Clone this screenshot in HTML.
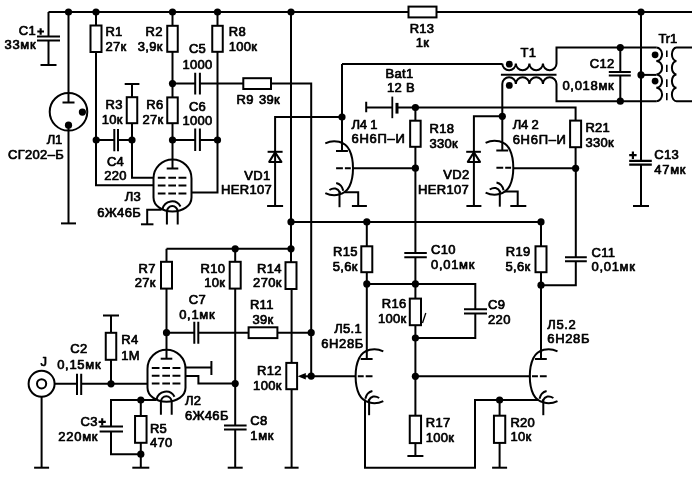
<!DOCTYPE html>
<html><head><meta charset="utf-8"><style>
html,body{margin:0;padding:0;background:#fff;}
svg{display:block;will-change:transform;}
text{font-family:"Liberation Sans",sans-serif;font-weight:normal;font-size:13px;fill:#000;stroke:#000;stroke-width:0.7px;stroke-linejoin:round;letter-spacing:0.3px;}
</style></head><body>
<svg width="700" height="478" viewBox="0 0 700 478" stroke="#000" stroke-linecap="butt" stroke-linejoin="miter">
<rect width="700" height="478" fill="#fff" stroke="none"/>
<path d="M48.5,12 H692" stroke-width="2.0" fill="none"/>
<circle cx="68.5" cy="12" r="3.6" fill="#000" stroke="none"/>
<circle cx="96" cy="12" r="3.6" fill="#000" stroke="none"/>
<circle cx="172.5" cy="12" r="3.6" fill="#000" stroke="none"/>
<circle cx="217.5" cy="12" r="3.6" fill="#000" stroke="none"/>
<circle cx="291" cy="12" r="3.6" fill="#000" stroke="none"/>
<circle cx="641" cy="12" r="3.6" fill="#000" stroke="none"/>
<rect x="408.5" y="6.60" width="28.00" height="10.8" fill="#fff" stroke-width="2.0"/>
<text x="422" y="32.5" text-anchor="middle">R13</text>
<text x="422.5" y="47" text-anchor="middle">1к</text>
<path d="M48.5,12 V36.5 M48.5,40.5 V65" stroke-width="2.0" fill="none"/>
<path d="M37,36.5 H60 M37,40.5 H60" stroke-width="2.0" fill="none"/>
<path d="M40.50,65 H56.50" stroke-width="2" fill="none"/>
<text x="18.8" y="34.5" text-anchor="start">C1</text>
<text x="4.5" y="48.6" text-anchor="start" style="letter-spacing:0.7px">33мк</text>
<path d="M37.3,31.5 H44 M40.65,28.2 V34.8" stroke-width="2.1" fill="none"/>
<path d="M68.5,12 V102.5 M62.5,102.5 H74.5" stroke-width="2.0" fill="none"/>
<circle cx="68.5" cy="111.8" r="18.8" fill="none" stroke-width="2"/>
<circle cx="82.4" cy="112.1" r="3.6" fill="#000" stroke="none"/>
<circle cx="68.5" cy="125.2" r="3.6" fill="#000" stroke="none"/>
<path d="M68.5,125 V223.4" stroke-width="2.0" fill="none"/>
<path d="M61.00,223.4 H76.00" stroke-width="2" fill="none"/>
<text x="62" y="144.4" text-anchor="end" style="letter-spacing:-0.2px">Л1</text>
<text x="64" y="158.8" text-anchor="end">СГ202–Б</text>
<path d="M96,12 V185.2 H153.5" stroke-width="2.0" fill="none"/>
<rect x="90.50" y="25.5" width="11" height="26.50" fill="#fff" stroke-width="2.0"/>
<text x="105.4" y="35.5" text-anchor="start">R1</text>
<text x="105.4" y="50.5" text-anchor="start">27к</text>
<circle cx="96.2" cy="140" r="3.6" fill="#000" stroke="none"/>
<path d="M96,140 H114.3 M118,140 H132" stroke-width="2.0" fill="none"/>
<path d="M114.3,129 V151.2 M118,129 V151.2" stroke-width="2.0" fill="none"/>
<text x="115.5" y="166" text-anchor="middle">C4</text>
<text x="115.5" y="179.5" text-anchor="middle">220</text>
<path d="M124.7,84 H139.4 M132,84 V97.2 M132,123.2 V177.8 H153.5" stroke-width="2.0" fill="none"/>
<rect x="126.75" y="97.2" width="10.5" height="26.00" fill="#fff" stroke-width="2.0"/>
<circle cx="132" cy="140" r="3.6" fill="#000" stroke="none"/>
<text x="122.7" y="108.5" text-anchor="end">R3</text>
<text x="122.7" y="123.5" text-anchor="end">10к</text>
<path d="M172.5,12 V168.5" stroke-width="2.0" fill="none"/>
<rect x="167.25" y="25.8" width="10.5" height="26.00" fill="#fff" stroke-width="2.0"/>
<rect x="167.25" y="97.4" width="10.5" height="25.80" fill="#fff" stroke-width="2.0"/>
<circle cx="172.5" cy="83.6" r="3.6" fill="#000" stroke="none"/>
<circle cx="172.5" cy="140" r="3.6" fill="#000" stroke="none"/>
<text x="162.7" y="35.5" text-anchor="end">R2</text>
<text x="162.7" y="50.8" text-anchor="end">3,9к</text>
<text x="163.5" y="109" text-anchor="end">R6</text>
<text x="163.5" y="123.6" text-anchor="end">27к</text>
<path d="M172.5,83.5 H195.2 M199.9,83.5 H243.3" stroke-width="2.0" fill="none"/>
<path d="M195.2,72.7 V94.6 M199.9,72.7 V94.6" stroke-width="2.0" fill="none"/>
<text x="197.5" y="53.4" text-anchor="middle">C5</text>
<text x="197.5" y="69.1" text-anchor="middle">1000</text>
<path d="M271,83.6 H311.2 V376.1" stroke-width="2.0" fill="none"/>
<rect x="243.3" y="78.20" width="27.70" height="10.8" fill="#fff" stroke-width="2.0"/>
<text x="236.5" y="103.7" text-anchor="start">R9</text>
<text x="259" y="103.7" text-anchor="start">39к</text>
<path d="M172.5,140 H195.2 M199.9,140 H217.5" stroke-width="2.0" fill="none"/>
<path d="M195.2,128.6 V151 M199.9,128.6 V151" stroke-width="2.0" fill="none"/>
<text x="197.5" y="110.6" text-anchor="middle">C6</text>
<text x="197.5" y="124.6" text-anchor="middle">1000</text>
<path d="M217.5,12 V192.6 H191" stroke-width="2.0" fill="none"/>
<rect x="212.25" y="25.8" width="10.5" height="26.00" fill="#fff" stroke-width="2.0"/>
<circle cx="217.5" cy="140" r="3.6" fill="#000" stroke="none"/>
<text x="228.7" y="35.5" text-anchor="start">R8</text>
<text x="228.7" y="50.8" text-anchor="start">100к</text>
<path d="M161.5,209.8 H147.2 V224.3" stroke-width="2.0" fill="none"/>
<path d="M140.95,224.3 H153.45" stroke-width="2" fill="none"/>
<text x="141" y="201.4" text-anchor="end">Л3</text>
<text x="141" y="216.6" text-anchor="end">6Ж46Б</text>
<g transform="translate(172.5,168.5)"><path d="M-5.8,0 H5.8" stroke-width="2.0" fill="none"/><path d="M-19,10 A19,19 0 0 1 19,10 V29 C19,37.5 10,43 0,43 C-10,43 -19,37.5 -19,29 Z" stroke-width="2.0" fill="none"/><path d="M-14.7,9.2 H-7 M-4.2,9.2 H3.5 M6,9.2 H13.9" stroke-width="2.0" fill="none"/><path d="M-14.7,17.1 H-7 M-4.2,17.1 H3.5 M6,17.1 H13.9" stroke-width="2.0" fill="none"/><path d="M-14.7,24.9 H-7 M-4.2,24.9 H3.5 M6,24.9 H13.9" stroke-width="2.0" fill="none"/><path d="M-9.9,40.6 A9.6,9.6 0 0 1 8,38" stroke-width="2.0" fill="none"/><path d="M-5.6,56 V43 A5.4,5.4 0 0 1 5.2,43 V56" stroke-width="2.0" fill="none"/></g>
<path d="M342,117 H275.1 V206" stroke-width="2.0" fill="none"/>
<path d="M267.6,151.8 H282.6" stroke-width="2" fill="none"/>
<path d="M275.1,152.4 L269.2,161.9 H281.4 Z" stroke-width="2" fill="none" stroke-linejoin="round"/>
<path d="M267.10,206 H283.10" stroke-width="2" fill="none"/>
<text x="270.5" y="179.7" text-anchor="end">VD1</text>
<text x="272" y="194.3" text-anchor="end">HER107</text>
<path d="M291,12 V290 M291.6,289 V467.7" stroke-width="2.0" fill="none"/>
<rect x="285.50" y="262.2" width="11" height="26.80" fill="#fff" stroke-width="2.0"/>
<rect x="286.30" y="362.9" width="10.8" height="26.30" fill="#fff" stroke-width="2.0"/>
<path d="M284.60,467.7 H298.60" stroke-width="2" fill="none"/>
<circle cx="291" cy="221.9" r="3.6" fill="#000" stroke="none"/>
<circle cx="291" cy="248.8" r="3.6" fill="#000" stroke="none"/>
<text x="281.7" y="272.6" text-anchor="end">R14</text>
<text x="281.7" y="287.2" text-anchor="end">270к</text>
<text x="281.7" y="375.1" text-anchor="end">R12</text>
<text x="281.7" y="389.6" text-anchor="end">100к</text>
<path d="M311.2,376.3 H304" stroke-width="2.0" fill="none"/>
<path d="M297.6,376.3 L305.8,373 L305.8,379.6 Z" fill="#000" stroke="none"/>
<circle cx="311.2" cy="376.1" r="3.6" fill="#000" stroke="none"/>
<circle cx="311.2" cy="332.7" r="3.6" fill="#000" stroke="none"/>
<path d="M291,221.9 H541" stroke-width="2.0" fill="none"/>
<circle cx="366.8" cy="221.9" r="3.6" fill="#000" stroke="none"/>
<circle cx="541" cy="221.9" r="3.6" fill="#000" stroke="none"/>
<path d="M166.5,248.8 H291" stroke-width="2.0" fill="none"/>
<circle cx="235.2" cy="248.8" r="3.6" fill="#000" stroke="none"/>
<path d="M166.5,248.8 V358.7" stroke-width="2.0" fill="none"/>
<rect x="161.00" y="261.8" width="11" height="26.80" fill="#fff" stroke-width="2.0"/>
<circle cx="166.5" cy="332.7" r="3.6" fill="#000" stroke="none"/>
<text x="155.7" y="272.6" text-anchor="end">R7</text>
<text x="155.7" y="287.2" text-anchor="end">27к</text>
<path d="M166.5,332.7 H194.3 M198.3,332.7 H248.6 M277.4,332.7 H311.2" stroke-width="2.0" fill="none"/>
<path d="M194.3,321.8 V343.7 M198.3,321.8 V343.7" stroke-width="2.0" fill="none"/>
<rect x="248.6" y="327.30" width="28.80" height="10.8" fill="#fff" stroke-width="2.0"/>
<text x="197.3" y="304" text-anchor="middle">C7</text>
<text x="197.3" y="318.8" text-anchor="middle" style="letter-spacing:0.7px">0,1мк</text>
<text x="261.8" y="309" text-anchor="middle">R11</text>
<text x="263" y="324" text-anchor="middle">39к</text>
<path d="M235.2,248.8 V425.4 M235.2,429.4 V467.7" stroke-width="2.0" fill="none"/>
<rect x="229.70" y="261.8" width="11" height="26.80" fill="#fff" stroke-width="2.0"/>
<path d="M224,425.4 H246.6 M224,429.4 H246.6" stroke-width="2.0" fill="none"/>
<path d="M227.70,467.7 H242.70" stroke-width="2" fill="none"/>
<circle cx="235.2" cy="383.6" r="3.6" fill="#000" stroke="none"/>
<text x="225.2" y="272.6" text-anchor="end">R10</text>
<text x="225.2" y="287.2" text-anchor="end">10к</text>
<text x="250.3" y="424.5" text-anchor="start">C8</text>
<text x="250.3" y="440" text-anchor="start" style="letter-spacing:0.7px">1мк</text>
<g transform="translate(166.5,358.7)"><path d="M-5.8,0 H5.8" stroke-width="2.0" fill="none"/><path d="M-19,10 A19,19 0 0 1 19,10 V29 C19,37.5 10,43 0,43 C-10,43 -19,37.5 -19,29 Z" stroke-width="2.0" fill="none"/><path d="M-14.7,9.2 H-7 M-4.2,9.2 H3.5 M6,9.2 H13.9" stroke-width="2.0" fill="none"/><path d="M-14.7,17.1 H-7 M-4.2,17.1 H3.5 M6,17.1 H13.9" stroke-width="2.0" fill="none"/><path d="M-14.7,24.9 H-7 M-4.2,24.9 H3.5 M6,24.9 H13.9" stroke-width="2.0" fill="none"/><path d="M-9.9,40.6 A9.6,9.6 0 0 1 8,38" stroke-width="2.0" fill="none"/><path d="M-5.6,56 V43 A5.4,5.4 0 0 1 5.2,43 V56" stroke-width="2.0" fill="none"/></g>
<path d="M185,367.6 H211.4 M211.4,360.9 V375.1" stroke-width="2.0" fill="none"/>
<path d="M185,376 H198.4 V383.6 H235.2" stroke-width="2.0" fill="none"/>
<text x="185" y="405" text-anchor="start">Л2</text>
<text x="185" y="420.3" text-anchor="start">6Ж46Б</text>
<circle cx="41.6" cy="383.8" r="13" fill="none" stroke-width="2"/>
<circle cx="41.6" cy="383.8" r="4.6" fill="none" stroke-width="2"/>
<path d="M54.6,383.8 H77 M81.2,383.8 H147.2" stroke-width="2.0" fill="none"/>
<path d="M77,373.8 V395 M81.2,373.8 V395" stroke-width="2.0" fill="none"/>
<path d="M41.6,396.8 V467.7" stroke-width="2.0" fill="none"/>
<path d="M34.10,467.7 H49.10" stroke-width="2" fill="none"/>
<text x="40.5" y="365.5" text-anchor="start">J</text>
<text x="70.3" y="352.9" text-anchor="start">C2</text>
<text x="57.2" y="368.9" text-anchor="start" style="letter-spacing:0.7px">0,15мк</text>
<circle cx="111" cy="383.8" r="3.6" fill="#000" stroke="none"/>
<path d="M103,315.6 H119 M111,315.6 V383.8" stroke-width="2.0" fill="none"/>
<rect x="105.75" y="332.8" width="10.5" height="27.00" fill="#fff" stroke-width="2.0"/>
<text x="121.3" y="344.2" text-anchor="start">R4</text>
<text x="121.3" y="359.6" text-anchor="start">1M</text>
<path d="M156,400 H111 V426.6 M111,431.5 V454.2 H140.8" stroke-width="2.0" fill="none"/>
<path d="M99.6,426.6 H123 M99.6,431.5 H123" stroke-width="2.0" fill="none"/>
<path d="M140.8,400 V467.7" stroke-width="2.0" fill="none"/>
<rect x="135.05" y="416" width="11.5" height="26.80" fill="#fff" stroke-width="2.0"/>
<path d="M132.30,467.7 H149.30" stroke-width="2" fill="none"/>
<circle cx="140.8" cy="400" r="3.6" fill="#000" stroke="none"/>
<circle cx="140.8" cy="454.2" r="3.6" fill="#000" stroke="none"/>
<text x="97.8" y="426.2" text-anchor="end">C3</text>
<text x="98.2" y="440.8" text-anchor="end" style="letter-spacing:0.7px">220мк</text>
<path d="M98.6,421.9 H105.8 M102.2,418.3 V425.5" stroke-width="2.1" fill="none"/>
<text x="149.9" y="432.8" text-anchor="start">R5</text>
<text x="149.9" y="447.4" text-anchor="start">470</text>
<path d="M342,64 H502.3" stroke-width="2.0" fill="none"/>
<path d="M502.3,63.5 A6.775,6.775 0 0 0 515.85,63.5 A6.775,6.775 0 0 0 529.40,63.5 A6.775,6.775 0 0 0 542.95,63.5 A6.775,6.775 0 0 0 556.50,63.5 V47.6 H656.3" stroke-width="2.0" fill="none"/>
<path d="M500.9,74.7 H556.5" stroke-width="2.0" fill="none"/>
<path d="M502.3,150.2 V84  A6.775,6.775 0 0 1 515.85,84 A6.775,6.775 0 0 1 529.40,84 A6.775,6.775 0 0 1 542.95,84 A6.775,6.775 0 0 1 556.50,84 V101.2 H656.3" stroke-width="2.0" fill="none"/>
<circle cx="509.3" cy="64.2" r="3.4" fill="#000" stroke="none"/>
<circle cx="509.3" cy="85.4" r="3.4" fill="#000" stroke="none"/>
<text x="520.5" y="56.8" text-anchor="start">T1</text>
<circle cx="342" cy="117" r="3.6" fill="#000" stroke="none"/>
<path d="M366.2,101.8 V112.3 M366.2,107.5 H392.3 M397,107.5 H575.6 V168.3" stroke-width="2.0" fill="none"/>
<path d="M392.3,96.6 V118.2" stroke-width="1.8" fill="none"/>
<path d="M397,102.9 V113.6" stroke-width="3" fill="none"/>
<circle cx="415.4" cy="107.5" r="3.6" fill="#000" stroke="none"/>
<text x="385.6" y="77.8" text-anchor="start">Bat1</text>
<text x="387" y="92.4" text-anchor="start">12 В</text>
<text x="351.5" y="129" text-anchor="start" style="letter-spacing:-0.2px">Л4 1</text>
<text x="351.5" y="142.8" text-anchor="start" style="letter-spacing:0.7px">6Н6П–И</text>
<g transform="translate(342,150.7) scale(-1,1)"><path d="M-5.9,0.3 H6" stroke-width="2.0" fill="none"/><path d="M16.7,-7.4 C8,-11.5 -3,-9.5 -7.5,-0.5 C-10.2,5 -11,11 -11,17.5 C-11,24 -10.2,30 -7.5,35.5 C-3,44.5 8,46.5 16.7,42.4" stroke-width="2.0" fill="none"/><path d="M-8.8,17.5 H-2.9 M-0.9,17.5 H5.9" stroke-width="2.0" fill="none"/><path d="M-1.3,40.1 Q0,33.5 5.8,32.2" stroke-width="2.0" fill="none"/><path d="M1.7,42.2 Q6,35 12.6,39.3" stroke-width="2.0" fill="none"/><path d="M2.5,40.6 V56.5" stroke-width="2.0" fill="none"/></g>
<path d="M342,64 V150.7" stroke-width="2.0" fill="none"/>
<path d="M353,168.2 H415.4" stroke-width="2.0" fill="none"/>
<path d="M344.3,192.2 H358.2 V206" stroke-width="2.0" fill="none"/>
<path d="M351.90,206 H366.90" stroke-width="2" fill="none"/>
<path d="M415.4,107.5 V253 M415.4,257.2 V456" stroke-width="2.0" fill="none"/>
<rect x="410.15" y="120.7" width="10.5" height="26.10" fill="#fff" stroke-width="2.0"/>
<rect x="409.80" y="298.6" width="11.2" height="26.60" fill="#fff" stroke-width="2.0"/>
<rect x="409.75" y="415.7" width="11.3" height="27.40" fill="#fff" stroke-width="2.0"/>
<path d="M404.3,253 H426.8 M404.3,257.2 H426.8" stroke-width="2.0" fill="none"/>
<path d="M407.40,456 H423.40" stroke-width="2" fill="none"/>
<circle cx="415.4" cy="168.2" r="3.6" fill="#000" stroke="none"/>
<circle cx="415.4" cy="283.9" r="3.6" fill="#000" stroke="none"/>
<circle cx="415.4" cy="338" r="3.6" fill="#000" stroke="none"/>
<circle cx="415.4" cy="376.3" r="3.6" fill="#000" stroke="none"/>
<text x="429.5" y="132.5" text-anchor="start">R18</text>
<text x="429.5" y="148" text-anchor="start">330к</text>
<text x="431" y="253.5" text-anchor="start">C10</text>
<text x="431" y="268.5" text-anchor="start" style="letter-spacing:0.7px">0,01мк</text>
<text x="406.5" y="308.3" text-anchor="end">R16</text>
<text x="406.5" y="322.9" text-anchor="end">100к</text>
<text x="425.7" y="427.3" text-anchor="start">R17</text>
<text x="425.7" y="441.6" text-anchor="start">100к</text>
<path d="M422.5,323 L425.8,313" stroke-width="1.3" fill="none"/>
<g transform="translate(502.3,150.2) scale(-1,1)"><path d="M-5.9,0.3 H6" stroke-width="2.0" fill="none"/><path d="M16.7,-7.4 C8,-11.5 -3,-9.5 -7.5,-0.5 C-10.2,5 -11,11 -11,17.5 C-11,24 -10.2,30 -7.5,35.5 C-3,44.5 8,46.5 16.7,42.4" stroke-width="2.0" fill="none"/><path d="M-8.8,17.5 H-2.9 M-0.9,17.5 H5.9" stroke-width="2.0" fill="none"/><path d="M-1.3,40.1 Q0,33.5 5.8,32.2" stroke-width="2.0" fill="none"/><path d="M1.7,42.2 Q6,35 12.6,39.3" stroke-width="2.0" fill="none"/><path d="M2.5,40.6 V56.5" stroke-width="2.0" fill="none"/></g>
<circle cx="502.3" cy="116.3" r="3.6" fill="#000" stroke="none"/>
<path d="M502.3,116.3 H473.9 V206" stroke-width="2.0" fill="none"/>
<path d="M466.2,151.8 H480.9" stroke-width="2" fill="none"/>
<path d="M473.9,152.4 L467.8,161.9 H480 Z" stroke-width="2" fill="none" stroke-linejoin="round"/>
<path d="M466.40,206 H481.40" stroke-width="2" fill="none"/>
<path d="M514,168.3 H575.6" stroke-width="2.0" fill="none"/>
<path d="M504.6,191.6 H517.7 V206" stroke-width="2.0" fill="none"/>
<path d="M510.30,206 H526.30" stroke-width="2" fill="none"/>
<circle cx="575.6" cy="168.3" r="3.6" fill="#000" stroke="none"/>
<text x="469.5" y="179.4" text-anchor="end">VD2</text>
<text x="469" y="193.6" text-anchor="end">HER107</text>
<text x="512.7" y="128.9" text-anchor="start" style="letter-spacing:-0.2px">Л4 2</text>
<text x="512.7" y="143.9" text-anchor="start" style="letter-spacing:0.7px">6Н6П–И</text>
<rect x="570.10" y="120.6" width="11" height="26.60" fill="#fff" stroke-width="2.0"/>
<path d="M575.8,168.3 V257.3 M575.8,261.2 V285.2 H541" stroke-width="2.0" fill="none"/>
<path d="M565,257.3 H586.8 M565,261.2 H586.8" stroke-width="2.0" fill="none"/>
<text x="585.4" y="132.3" text-anchor="start">R21</text>
<text x="585.4" y="147.4" text-anchor="start">330к</text>
<text x="591.5" y="257.1" text-anchor="start">C11</text>
<text x="591.5" y="271.4" text-anchor="start" style="letter-spacing:0.7px">0,01мк</text>
<path d="M620.3,47.6 V72 M620.3,75.4 V101.2" stroke-width="2.0" fill="none"/>
<path d="M608.8,72 H630.8 M608.8,75.4 H630.8" stroke-width="2.0" fill="none"/>
<circle cx="620.3" cy="47.6" r="3.6" fill="#000" stroke="none"/>
<circle cx="620.3" cy="101.2" r="3.6" fill="#000" stroke="none"/>
<text x="614.5" y="67.5" text-anchor="end">C12</text>
<text x="614.5" y="90.2" text-anchor="end" style="letter-spacing:0.7px">0,018мк</text>
<path d="M641,12 V160.9 M641,164.6 V206" stroke-width="2.0" fill="none"/>
<path d="M629.2,160.9 H651.8 M629.2,164.6 H651.8" stroke-width="2.2" fill="none"/>
<path d="M629.2,155.2 H636.6 M632.9,151.4 V159" stroke-width="2.2" fill="none"/>
<path d="M633.00,206 H649.00" stroke-width="2" fill="none"/>
<circle cx="641" cy="74.9" r="3.6" fill="#000" stroke="none"/>
<text x="654.3" y="158.9" text-anchor="start">C13</text>
<text x="654.3" y="174.2" text-anchor="start" style="letter-spacing:0.7px">47мк</text>
<path d="M641,74.9 H656.3" stroke-width="2.0" fill="none"/>
<path d="M656.3,47.6 A5.8,6.7 0 0 1 656.3,61.00 A5.8,6.7 0 0 1 656.3,74.40 A5.8,6.7 0 0 1 656.3,87.80 A5.8,6.7 0 0 1 656.3,101.20" stroke-width="2.0" fill="none"/>
<path d="M692,47.6 H676.5  A4.6,6.7 0 0 0 676.5,61.00 A4.6,6.7 0 0 0 676.5,74.40 A4.6,6.7 0 0 0 676.5,87.80 A4.6,6.7 0 0 0 676.5,101.20 H692" stroke-width="2.0" fill="none"/>
<path d="M666.8,50.5 V57 M666.8,64.7 V72 M666.8,79.2 V87 M666.8,93 V100.3" stroke-width="1.6" fill="none"/>
<circle cx="655.1" cy="54.8" r="3.4" fill="#000" stroke="none"/>
<circle cx="655.1" cy="81.1" r="3.4" fill="#000" stroke="none"/>
<text x="658.5" y="42.6" text-anchor="start" style="letter-spacing:-0.2px">Tr1</text>
<path d="M366.8,221.9 V358.7" stroke-width="2.0" fill="none"/>
<rect x="361.30" y="246.3" width="11" height="25.90" fill="#fff" stroke-width="2.0"/>
<circle cx="366.8" cy="283.9" r="3.6" fill="#000" stroke="none"/>
<path d="M366.8,283.9 H475.3 V309.2 M475.3,313.5 V338 H415.4" stroke-width="2.0" fill="none"/>
<path d="M464,309.2 H487 M464,313.5 H487" stroke-width="2.0" fill="none"/>
<text x="357.8" y="255.6" text-anchor="end">R15</text>
<text x="357.8" y="271.1" text-anchor="end">5,6к</text>
<text x="488.1" y="309" text-anchor="start">C9</text>
<text x="488.1" y="323.6" text-anchor="start">220</text>
<path d="M541,221.9 V358.7" stroke-width="2.0" fill="none"/>
<rect x="535.50" y="246.3" width="11" height="25.90" fill="#fff" stroke-width="2.0"/>
<circle cx="541" cy="285.2" r="3.6" fill="#000" stroke="none"/>
<text x="530.5" y="256" text-anchor="end">R19</text>
<text x="530.5" y="271" text-anchor="end">5,6к</text>
<g transform="translate(366.6,358.7)"><path d="M-5.9,0.3 H6" stroke-width="2.0" fill="none"/><path d="M16.7,-7.4 C8,-11.5 -3,-9.5 -7.5,-0.5 C-10.2,5 -11,11 -11,17.5 C-11,24 -10.2,30 -7.5,35.5 C-3,44.5 8,46.5 16.7,42.4" stroke-width="2.0" fill="none"/><path d="M-8.8,17.5 H-2.9 M-0.9,17.5 H5.9" stroke-width="2.0" fill="none"/><path d="M-1.3,40.1 Q0,33.5 5.8,32.2" stroke-width="2.0" fill="none"/><path d="M1.7,42.2 Q6,35 12.6,39.3" stroke-width="2.0" fill="none"/><path d="M2.5,40.6 V56.5" stroke-width="2.0" fill="none"/></g>
<g transform="translate(540.8,358.7)"><path d="M-5.9,0.3 H6" stroke-width="2.0" fill="none"/><path d="M16.7,-7.4 C8,-11.5 -3,-9.5 -7.5,-0.5 C-10.2,5 -11,11 -11,17.5 C-11,24 -10.2,30 -7.5,35.5 C-3,44.5 8,46.5 16.7,42.4" stroke-width="2.0" fill="none"/><path d="M-8.8,17.5 H-2.9 M-0.9,17.5 H5.9" stroke-width="2.0" fill="none"/><path d="M-1.3,40.1 Q0,33.5 5.8,32.2" stroke-width="2.0" fill="none"/><path d="M1.7,42.2 Q6,35 12.6,39.3" stroke-width="2.0" fill="none"/><path d="M2.5,40.6 V56.5" stroke-width="2.0" fill="none"/></g>
<path d="M311.2,376.2 H356" stroke-width="2.0" fill="none"/>
<path d="M415.4,376.3 H530.6" stroke-width="2.0" fill="none"/>
<path d="M365,399.6 V467.7 H475 V400 H538.6" stroke-width="2.0" fill="none"/>
<circle cx="499.6" cy="400" r="3.6" fill="#000" stroke="none"/>
<path d="M499.6,400 V467.7" stroke-width="2.0" fill="none"/>
<rect x="493.95" y="415.7" width="11.3" height="27.20" fill="#fff" stroke-width="2.0"/>
<path d="M492.10,467.7 H507.10" stroke-width="2" fill="none"/>
<text x="510.4" y="426.6" text-anchor="start">R20</text>
<text x="510.4" y="441.3" text-anchor="start">10к</text>
<text x="362" y="333" text-anchor="end">Л5.1</text>
<text x="364" y="348.4" text-anchor="end" style="letter-spacing:0.65px">6Н28Б</text>
<text x="547.3" y="329.2" text-anchor="start" style="letter-spacing:0.65px">Л5.2</text>
<text x="547.3" y="343.4" text-anchor="start" style="letter-spacing:0.65px">6Н28Б</text>
</svg></body></html>
